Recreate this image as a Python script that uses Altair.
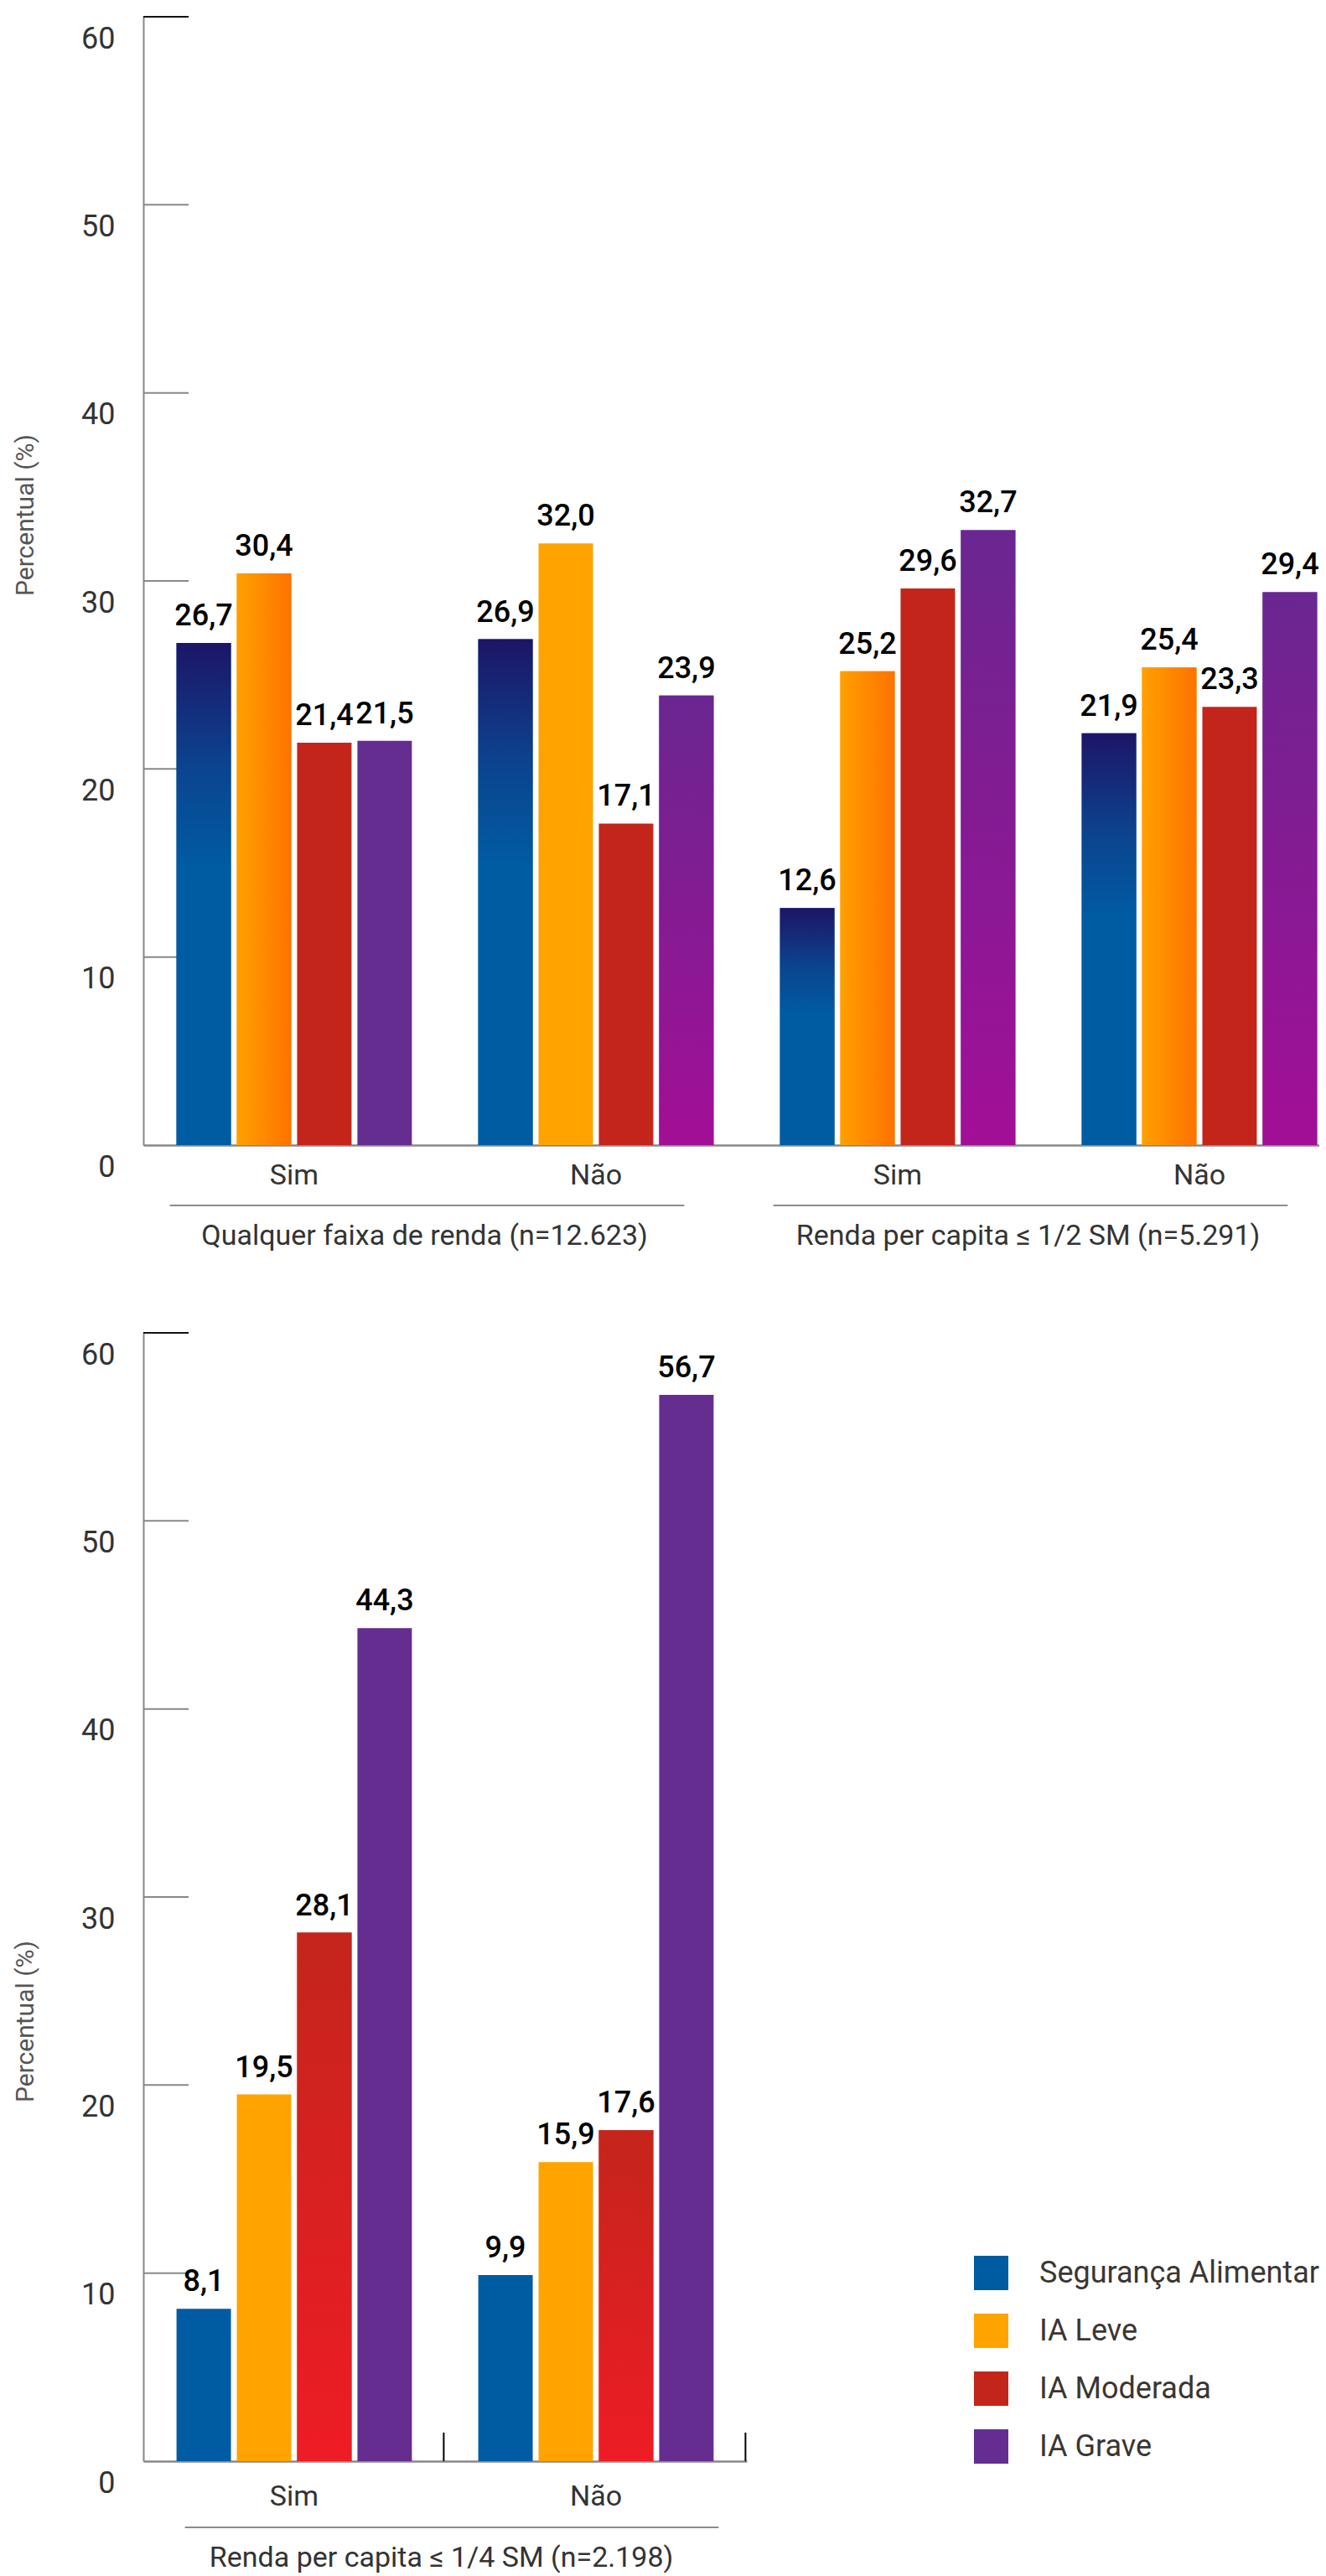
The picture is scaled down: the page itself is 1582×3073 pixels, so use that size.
import altair as alt
import pandas as pd

# ---------------- data ----------------
categories = ["Segurança Alimentar", "IA Leve", "IA Moderada", "IA Grave"]
answers = ["Sim", "Não"]

top_groups = ["Qualquer faixa de renda (n=12.623)", "Renda per capita ≤ 1/2 SM (n=5.291)"]
bottom_groups = ["Renda per capita ≤ 1/4 SM (n=2.198)"]

qualquer_sim = [26.7, 30.4, 21.4, 21.5]
qualquer_nao = [26.9, 32.0, 17.1, 23.9]
meio_sim = [12.6, 25.2, 29.6, 32.7]
meio_nao = [21.9, 25.4, 23.3, 29.4]
quarto_sim = [8.1, 19.5, 28.1, 44.3]
quarto_nao = [9.9, 15.9, 17.6, 56.7]

y_ticks = [0, 10, 20, 30, 40, 50, 60]

# ---------------- styles ----------------
solid_colors = ["#005ca2", "#ffa300", "#c4251b", "#652d90"]

blue_grad = alt.Gradient(gradient="linear", x1=0, x2=0, y1=0, y2=1, stops=[
    alt.GradientStop(color="#1d1566", offset=0),
    alt.GradientStop(color="#0b4490", offset=0.25),
    alt.GradientStop(color="#005ca2", offset=0.45),
    alt.GradientStop(color="#005ca2", offset=1)])
orange_grad = alt.Gradient(gradient="linear", x1=0, x2=1, y1=0, y2=0, stops=[
    alt.GradientStop(color="#ffa000", offset=0),
    alt.GradientStop(color="#ff7200", offset=1)])
purple_grad = alt.Gradient(gradient="linear", x1=0, x2=0, y1=0, y2=1, stops=[
    alt.GradientStop(color="#6a2691", offset=0),
    alt.GradientStop(color="#a20f96", offset=1)])
red_grad = alt.Gradient(gradient="linear", x1=0, x2=0, y1=0, y2=1, stops=[
    alt.GradientStop(color="#c4251b", offset=0),
    alt.GradientStop(color="#ee1c25", offset=1)])

FONT = "Roboto"
H = 1346


def build_df(groups, series):
    rows = []
    i = 0
    for g in groups:
        for a in answers:
            vals = series[i]
            i += 1
            for c, v in zip(categories, vals):
                rows.append({"key": f"{g}|{a}", "grp": g, "ans": a, "cat": c, "v": v})
    return pd.DataFrame(rows)


def panel(groups, series, W, po, align, lab_pad, br_y, gl_y, br_off, br2_off, gl_off,
          title_y, gradients, legend, separators=False):
    df = build_df(groups, series)
    keys = [f"{g}|{a}" for g in groups for a in answers]
    xscale = alt.Scale(domain=keys, paddingInner=0.22, paddingOuter=po, align=align)
    yscale = alt.Scale(domain=[0, 60], nice=False, zero=True)
    offscale = alt.Scale(domain=categories, paddingInner=0.097, paddingOuter=0)

    yaxis = alt.Axis(values=y_ticks, tickSize=0, grid=False, domainColor="#888888",
                     domainWidth=2, labelFont=FONT, labelFontSize=36, labelColor="#333333",
                     labelPadding=34, labelOffset=26, labelBaseline="middle",
                     title="Percentual (%)", titleFont=FONT, titleFontSize=30,
                     titleFontWeight="normal", titleColor="#555555", titleX=-141,
                     titleY=title_y, titleAngle=-90, titleBaseline="middle",
                     titleAlign="center")
    xaxis = alt.Axis(labelExpr="split(datum.label, '|')[1]", tickSize=0,
                     domainColor="#888888", domainWidth=2.5, labelFont=FONT,
                     labelFontSize=34, labelColor="#333333", labelPadding=lab_pad,
                     labelBaseline="middle", labelAngle=0, title=None)

    xenc = alt.X("key:N", scale=xscale, axis=xaxis)
    offenc = alt.XOffset("cat:N", scale=offscale)
    yenc = alt.Y("v:Q", scale=yscale, axis=yaxis)

    tick_df = pd.DataFrame({"t": y_ticks[1:]})
    ticks = alt.Chart(tick_df).mark_rule(strokeWidth=2).encode(
        x=alt.value(0), x2=alt.value(54),
        y=alt.Y("t:Q", scale=yscale, axis=yaxis),
        stroke=alt.condition("datum.t == 60", alt.value("#111111"), alt.value("#888888")))

    bars = alt.Chart(df).mark_bar().encode(
        x=xenc, xOffset=offenc, y=yenc,
        color=alt.Color("cat:N", scale=alt.Scale(domain=categories, range=solid_colors),
                        legend=legend))

    layers = [ticks, bars]
    for expr, grad in gradients:
        layers.append(alt.Chart(df).transform_filter(expr).mark_bar(fill=grad).encode(
            x=xenc, xOffset=offenc, y=yenc))

    labels = alt.Chart(df).transform_calculate(
        lab="replace(format(datum.v, '.1f'), '.', ',')"
    ).mark_text(font=FONT, fontSize=36, fontWeight=500, color="#000000",
                baseline="alphabetic", dy=-21).encode(
        x=xenc, xOffset=offenc, y=yenc, text="lab:N")
    layers.append(labels)

    br_df = pd.DataFrame({"a": [f"{g}|Sim" for g in groups],
                          "b": [f"{g}|Não" for g in groups],
                          "label": groups})
    br_rule = alt.Chart(br_df).mark_rule(stroke="#666666", strokeWidth=1.5,
                                         xOffset=br_off, x2Offset=br2_off).encode(
        x=alt.X("a:N", bandPosition=0, scale=xscale, axis=xaxis),
        x2=alt.X2("b:N", bandPosition=1),
        y=alt.value(H + br_y))
    br_text = alt.Chart(br_df).mark_text(font=FONT, fontSize=34, color="#333333",
                                         baseline="middle", align="center",
                                         xOffset=gl_off).encode(
        x=alt.X("b:N", bandPosition=0, scale=xscale, axis=xaxis),
        y=alt.value(H + gl_y), text="label:N")
    layers += [br_rule, br_text]

    if separators:
        sep_df = pd.DataFrame({"key": keys})
        sep = alt.Chart(sep_df).mark_rule(stroke="#000000", strokeWidth=2, xOffset=38).encode(
            x=alt.X("key:N", bandPosition=1, scale=xscale, axis=xaxis),
            y=alt.datum(0), y2=alt.datum(1.52))
        layers.append(sep)

    return alt.layer(*layers).properties(width=W, height=H)


top_gradients = [
    ("datum.cat == 'Segurança Alimentar'", blue_grad),
    ("datum.cat == 'IA Leve' && datum.key != 'Qualquer faixa de renda (n=12.623)|Não'", orange_grad),
    ("datum.cat == 'IA Grave' && datum.key != 'Qualquer faixa de renda (n=12.623)|Sim'", purple_grad),
]
bottom_gradients = [
    ("datum.cat == 'IA Moderada'", red_grad),
]

legend = alt.Legend(orient="none", legendX=991, legendY=1101, title=None,
                    symbolType="square", symbolSize=1681, symbolStrokeWidth=0,
                    symbolOpacity=1, labelFont=FONT, labelFontSize=36,
                    labelColor="#3b3632", labelOffset=37, rowPadding=28, padding=0,
                    labelLimit=600)

top = panel(top_groups, [qualquer_sim, qualquer_nao, meio_sim, meio_nao],
            W=1403, po=0.0586, align=0.938, lab_pad=36, br_y=72, gl_y=109,
            br_off=-8, br2_off=-35, gl_off=-64, title_y=594,
            gradients=top_gradients, legend=None)
bottom = panel(bottom_groups, [quarto_sim, quarto_nao],
               W=720, po=0.11, align=0.5, lab_pad=42, br_y=79, gl_y=116,
               br_off=10, br2_off=6, gl_off=-44, title_y=821,
               gradients=bottom_gradients, legend=legend, separators=True)

chart = alt.vconcat(top, bottom, spacing=97).resolve_scale(
    x="independent", y="independent"
).resolve_legend(color="independent").properties(
    padding={"left": 7, "top": 11, "right": 0, "bottom": 0}
).configure(font=FONT).configure_view(strokeWidth=0, stroke="transparent")

chart.save("out.html", embed_options={"renderer": "svg", "actions": False})
